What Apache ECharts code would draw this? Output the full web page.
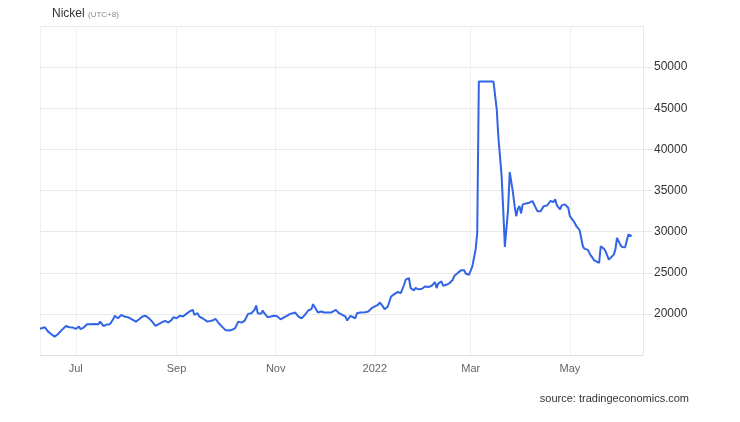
<!DOCTYPE html>
<html>
<head>
<meta charset="utf-8">
<script src="https://cdn.jsdelivr.net/npm/echarts@6/dist/echarts.min.js"></script>
<style>
  html, body { margin: 0; padding: 0; background: #ffffff; }
  #chart { width: 740px; height: 422px; }
</style>
</head>
<body>
<div id="chart"></div>
<script>
// ---- data ----
const dates = [
  '2021-06-09','2021-06-12','2021-06-14','2021-06-16','2021-06-18','2021-06-20','2021-06-22','2021-06-25','2021-06-27','2021-06-29',
  '2021-07-01','2021-07-03','2021-07-04','2021-07-06','2021-07-08','2021-07-10','2021-07-12','2021-07-15','2021-07-16','2021-07-18',
  '2021-07-20','2021-07-22','2021-07-24','2021-07-25','2021-07-27','2021-07-29','2021-07-31','2021-08-02','2021-08-04','2021-08-05',
  '2021-08-07','2021-08-09','2021-08-11','2021-08-13','2021-08-15','2021-08-17','2021-08-19','2021-08-20','2021-08-23','2021-08-25',
  '2021-08-27','2021-08-29','2021-08-30','2021-09-01','2021-09-03','2021-09-05','2021-09-07','2021-09-09','2021-09-11','2021-09-12',
  '2021-09-14','2021-09-15','2021-09-17','2021-09-20','2021-09-21','2021-09-23','2021-09-25','2021-09-27','2021-09-29','2021-10-01',
  '2021-10-03','2021-10-05','2021-10-07','2021-10-09','2021-10-11','2021-10-13','2021-10-15','2021-10-17','2021-10-19','2021-10-20',
  '2021-10-21','2021-10-23','2021-10-24','2021-10-25','2021-10-27','2021-10-29','2021-10-31','2021-11-02','2021-11-04','2021-11-05',
  '2021-11-07','2021-11-08','2021-11-10','2021-11-13','2021-11-15','2021-11-17','2021-11-19','2021-11-21','2021-11-23','2021-11-24',
  '2021-11-26','2021-11-27','2021-11-29','2021-12-01','2021-12-03','2021-12-05','2021-12-06','2021-12-08','2021-12-10','2021-12-12',
  '2021-12-14','2021-12-15','2021-12-17','2021-12-18','2021-12-20','2021-12-21','2021-12-23','2021-12-26','2021-12-28','2021-12-30',
  '2022-01-01','2022-01-03','2022-01-04','2022-01-06','2022-01-07','2022-01-09','2022-01-10','2022-01-11','2022-01-13','2022-01-15',
  '2022-01-17','2022-01-19','2022-01-20','2022-01-22','2022-01-23','2022-01-25','2022-01-26','2022-01-28','2022-01-30','2022-02-01',
  '2022-02-03','2022-02-05','2022-02-07','2022-02-08','2022-02-09','2022-02-11','2022-02-12','2022-02-14','2022-02-16','2022-02-18',
  '2022-02-19','2022-02-21','2022-02-23','2022-02-24','2022-02-25','2022-02-26','2022-02-28','2022-03-02','2022-03-03','2022-03-04',
  '2022-03-05','2022-03-06','2022-03-10','2022-03-15','2022-03-17','2022-03-18','2022-03-20','2022-03-21','2022-03-22','2022-03-24',
  '2022-03-25','2022-03-27','2022-03-28','2022-03-29','2022-03-30','2022-03-31','2022-04-01','2022-04-02','2022-04-04','2022-04-06',
  '2022-04-08','2022-04-09','2022-04-11','2022-04-13','2022-04-15','2022-04-17','2022-04-18','2022-04-19','2022-04-21','2022-04-22',
  '2022-04-23','2022-04-25','2022-04-26','2022-04-28','2022-04-30','2022-05-01','2022-05-02','2022-05-04','2022-05-05','2022-05-07',
  '2022-05-08','2022-05-09','2022-05-10','2022-05-12','2022-05-13','2022-05-14','2022-05-16','2022-05-17','2022-05-19','2022-05-20',
  '2022-05-22','2022-05-23','2022-05-25','2022-05-26','2022-05-28','2022-05-29','2022-05-30','2022-06-01','2022-06-02','2022-06-04',
  '2022-06-05','2022-06-06','2022-06-08'
];
const nickel = [
  18200,18370,17840,17520,17230,17520,17960,18530,18370,18350,
  18170,18450,18130,18370,18740,18740,18780,18740,19060,18530,
  18700,18740,19350,19760,19470,19880,19670,19600,19390,19470,
  19060,19350,19670,19760,19470,19060,18550,18600,18980,19150,
  18940,19270,19600,19470,19760,19670,20000,20290,20490,19880,
  20080,19670,19470,19060,18860,19190,19390,18860,18450,18050,
  17970,18050,18250,19060,18940,19190,20000,20080,20490,21020,
  20080,20000,20410,20080,19600,19670,19760,19700,19330,19270,
  19670,19600,20000,20160,19670,19470,19880,20410,20570,21180,
  20490,20160,20290,20160,20160,20160,20290,20490,20080,19880,
  19670,19190,19760,19670,19470,20080,20160,20200,20290,20690,
  20900,21100,21390,20900,20570,20900,21100,22110,22400,22650,
  22530,23540,24150,24360,23140,22860,23140,22980,23060,23340,
  23260,23420,23870,23140,23670,23950,23420,23540,23750,24150,
  24640,24970,25290,25090,25290,24880,24760,25780,26800,27810,
  29850,48240,48240,48240,44900,41500,36800,32700,28140,32700,
  37250,34740,33100,31880,32780,33100,32210,33310,33430,33520,
  33720,33920,32490,32490,33100,33180,33180,33720,33600,33920,
  33200,32700,33190,33310,32900,31880,31680,31070,30660,30170,
  29930,28220,27900,27810,27410,27080,26510,26390,26190,28220,
  27900,27610,26590,26800,27200,27810,29240,28420,28140,28100,
  28140,29650,29440
];
const monthLabels = ['Jan','Feb','Mar','Apr','May','Jun','Jul','Aug','Sep','Oct','Nov','Dec'];
const xRange = ['2021-06-09', '2022-06-15'];
const yRange = [15000, 55000];
const yStep = 5000;

const seriesData = dates.map((d, i) => [d, nickel[i]]);

const FONT = 'Liberation Sans, Arial, sans-serif';
const chart = echarts.init(document.getElementById('chart'), null, { renderer: 'canvas' });
chart.setOption({
  backgroundColor: '#ffffff',
  animation: false,
  textStyle: { fontFamily: FONT },
  title: [
    {
      text: 'Nickel {s|(UTC+8)}',
      left: 47, top: 3,
      textStyle: {
        fontSize: 12, fontWeight: 'normal', color: '#333333', fontFamily: FONT,
        rich: { s: { fontSize: 8, color: '#8a8a8a', fontFamily: FONT, padding: [2, 0, 0, 0] } }
      }
    },
    {
      text: 'source: tradingeconomics.com',
      right: 46, top: 388,
      textStyle: { fontSize: 11, fontWeight: 'normal', color: '#333333', fontFamily: FONT }
    }
  ],
  grid: { left: 40, right: 97, top: 26, bottom: 67, containLabel: false },
  xAxis: {
    type: 'time',
    min: xRange[0],
    max: xRange[1],
    splitNumber: 6,
    axisLine: { show: true, lineStyle: { color: '#e0e2ea', width: 1 } },
    axisTick: { show: false },
    axisLabel: {
      color: '#666666', fontSize: 11, margin: 8, fontFamily: FONT,
      formatter: function (val) {
        const d = new Date(val);
        const m = d.getMonth();
        return m === 0 ? String(d.getFullYear()) : monthLabels[m];
      }
    },
    splitLine: { show: true, lineStyle: { color: '#eef0f4', width: 1 } }
  },
  yAxis: {
    type: 'value',
    position: 'right',
    min: yRange[0],
    max: yRange[1],
    interval: yStep,
    axisLine: { show: true, lineStyle: { color: '#e8e8ec', width: 1 } },
    axisTick: { show: true, inside: false, length: 9, lineStyle: { color: '#e6e6e6' } },
    axisLabel: {
      color: '#333333', fontSize: 12, margin: 11, fontFamily: FONT,
      showMinLabel: false, showMaxLabel: false,
      formatter: function (v) { return String(v); }
    },
    splitLine: { show: true, lineStyle: { color: '#e8e8e8', width: 1 } }
  },
  series: [{
    type: 'line',
    name: 'Nickel',
    data: seriesData,
    showSymbol: false,
    symbol: 'none',
    lineStyle: { color: '#3264e6', width: 2 },
    itemStyle: { color: '#3264e6' }
  }]
});
</script>
</body>
</html>
